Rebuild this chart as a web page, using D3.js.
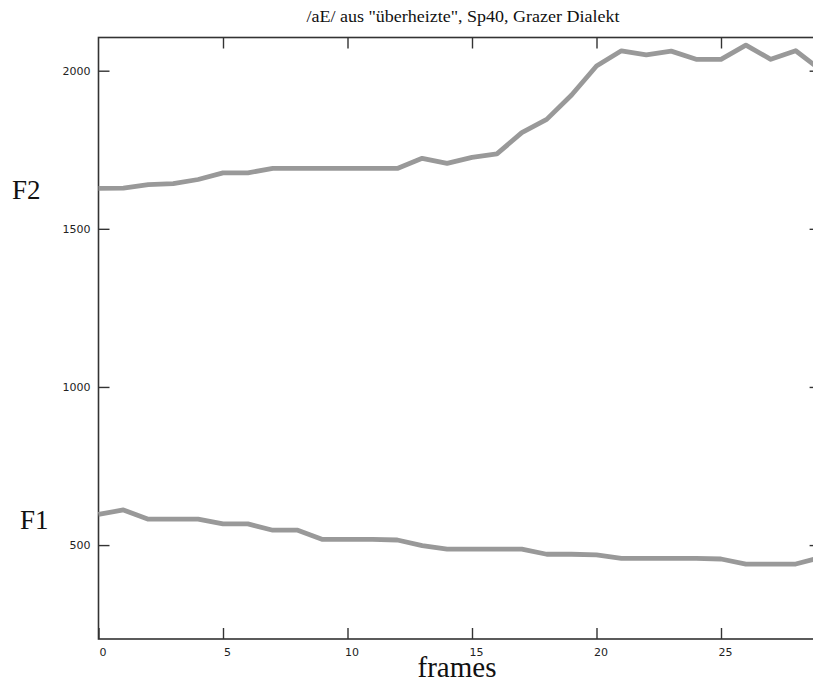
<!DOCTYPE html>
<html>
<head>
<meta charset="utf-8">
<script src="https://cdn.jsdelivr.net/npm/d3@7"></script>
<style>
  html, body { margin: 0; padding: 0; background: #fff; overflow: hidden; }
  svg { display: block; }
</style>
</head>
<body>
<svg id="chart" width="813" height="682"></svg>
<script>
// Formant tracks (Hz) per analysis frame
const frames = [0, 1, 2, 3, 4, 5, 6, 7, 8, 9, 10, 11, 12, 13, 14, 15, 16, 17, 18, 19, 20, 21, 22, 23, 24, 25, 26, 27, 28, 29];
const f2 = [1628, 1629, 1640, 1643, 1656, 1677, 1677, 1691, 1691, 1691, 1691, 1691, 1691, 1723, 1707, 1726, 1737, 1804, 1846, 1923, 2015, 2063, 2050, 2062, 2036, 2036, 2081, 2036, 2063, 2003];
const f1 = [597, 611, 582, 582, 582, 567, 567, 547, 547, 518, 518, 518, 516, 498, 487, 487, 487, 487, 471, 471, 469, 458, 458, 458, 458, 456, 440, 440, 440, 461];
const xTicks = [0, 5, 10, 15, 20, 25];
const yTicks = [500, 1000, 1500, 2000];
const title = '/aE/ aus "überheizte", Sp40, Grazer Dialekt';

const svg = d3.select("#chart");
const plotLeft = 98.5, plotRight = 820.6, plotTop = 37.5, plotBottom = 639;

const x = d3.scaleLinear().domain([0, 29]).range([plotLeft, plotRight]);
const y = d3.scaleLinear().domain([203, 2105]).range([plotBottom, plotTop]);

const axisColor = "#333";

// frame
svg.append("rect")
  .attr("x", plotLeft).attr("y", plotTop)
  .attr("width", plotRight - plotLeft).attr("height", plotBottom - plotTop)
  .attr("fill", "none").attr("stroke", axisColor).attr("stroke-width", 1.6);

// left axis: inward ticks with labels
const gl = svg.append("g").attr("transform", `translate(${plotLeft},0)`)
  .call(d3.axisLeft(y).tickValues(yTicks).tickSize(-11).tickFormat(d3.format("d")));
// right axis: inward ticks only
const gr = svg.append("g").attr("transform", `translate(${plotRight},0)`)
  .call(d3.axisRight(y).tickValues(yTicks).tickSize(-11).tickFormat(""));
// bottom axis: inward ticks with labels
const gb = svg.append("g").attr("transform", `translate(0,${plotBottom})`)
  .call(d3.axisBottom(x).tickValues(xTicks).tickSize(-11).tickPadding(9).tickFormat(d3.format("d")));
// top axis: inward ticks only
const gt = svg.append("g").attr("transform", `translate(0,${plotTop})`)
  .call(d3.axisTop(x).tickValues(xTicks.slice(1)).tickSize(-11).tickFormat(""));

[gl, gr, gb, gt].forEach(g => {
  g.select(".domain").remove();
  g.selectAll(".tick line").attr("stroke", axisColor).attr("stroke-width", 1.4);
  g.selectAll(".tick text")
    .attr("fill", "#222")
    .style("font-family", "'DejaVu Sans', sans-serif")
    .style("font-size", "11px");
});
gb.selectAll(".tick text").attr("dx", 4);
gl.selectAll(".tick text").attr("x", -8);

// formant lines
const line = d3.line().x((d, i) => x(frames[i])).y(d => y(d));
const lineColor = "#999";
[f2, f1].forEach(series => {
  svg.append("path")
    .datum(series)
    .attr("d", line)
    .attr("fill", "none")
    .attr("stroke", lineColor)
    .attr("stroke-width", 4.8)
    .attr("stroke-linejoin", "round");
});

// title
svg.append("text")
  .attr("x", 463).attr("y", 22)
  .attr("text-anchor", "middle")
  .attr("textLength", 313).attr("lengthAdjust", "spacingAndGlyphs")
  .style("font-family", "'Liberation Serif', serif")
  .style("font-size", "16px")
  .attr("fill", "#111")
  .text(title);

// axis names
const serif = "'Liberation Serif', serif";
svg.append("text").attr("x", 12).attr("y", 199)
  .style("font-family", serif).style("font-size", "27px").attr("fill", "#111")
  .text("F2");
svg.append("text").attr("x", 20).attr("y", 529)
  .style("font-family", serif).style("font-size", "27px").attr("fill", "#111")
  .text("F1");
svg.append("text").attr("x", 457).attr("y", 677)
  .attr("text-anchor", "middle")
  .style("font-family", serif).style("font-size", "29px").attr("fill", "#111")
  .text("frames");
</script>
</body>
</html>
